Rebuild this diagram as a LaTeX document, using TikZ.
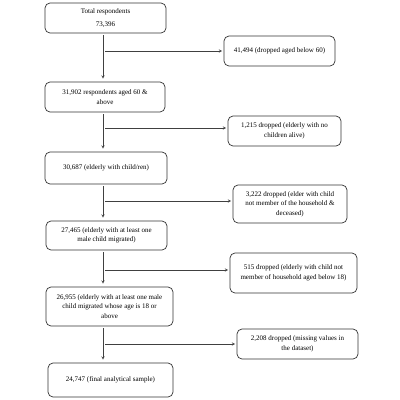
\documentclass[tikz,border=0pt]{standalone}
\usepackage{fontspec}
\setmainfont{Liberation Serif}
\begin{document}
\begin{tikzpicture}[
        x=1pt,
        y=-1pt,
        stagebox/.style={
            draw=black!80,
            rounded corners=5pt,
            line width=0.7pt,
            align=center,
            inner sep=2pt,
            font=\fontsize{7}{9.5}\selectfont
        },
        dropbox/.style={
            draw=black!80,
            rounded corners=5pt,
            line width=0.7pt,
            align=center,
            inner sep=2pt,
            font=\fontsize{7}{9.5}\selectfont
        },
        flowarrow/.style={
            ->,
            >=stealth,
            line width=0.5pt,
            black!75
        }
    ]

    \useasboundingbox (0,0) rectangle (400,400);

    % ---------------------------------------------------------
    % Main column (remaining sample)
    % ---------------------------------------------------------
    \node[stagebox, minimum width=121pt, minimum height=30pt] (total) at (105.5,18)
        {Total respondents\\[3pt]73,396};
    \node[stagebox, minimum width=120pt, minimum height=30pt] (aged) at (105,97)
        {31,902 respondents aged 60 \&\\above};
    \node[stagebox, minimum width=122pt, minimum height=32pt] (children) at (106,168)
        {30,687 (elderly with child/ren)};
    \node[stagebox, minimum width=121pt, minimum height=29pt] (migrated) at (106.5,235.5)
        {27,465 (elderly with at least one\\male child migrated)};
    \node[stagebox, minimum width=127pt, minimum height=39pt] (adult) at (109.5,306.5)
        {26,955 (elderly with at least one male\\child migrated whose age is 18 or\\above};
    \node[stagebox, minimum width=125pt, minimum height=34pt] (final) at (110.5,380)
        {24,747 (final analytical sample)};

    % ---------------------------------------------------------
    % Side column (dropped cases)
    % ---------------------------------------------------------
    \node[dropbox, minimum width=111pt, minimum height=30pt] (dropA) at (279.5,51)
        {41,494 (dropped aged below 60)};
    \node[dropbox, minimum width=113pt, minimum height=30pt] (dropB) at (284.5,131)
        {1,215 dropped (elderly with no\\children alive)};
    \node[dropbox, minimum width=114pt, minimum height=38pt] (dropC) at (290,204)
        {3,222 dropped (elder with child\\not member of the household \&\\deceased)};
    \node[dropbox, minimum width=127pt, minimum height=40pt] (dropD) at (293.5,273)
        {515 dropped (elderly with child not\\member of household aged below 18)};
    \node[dropbox, minimum width=121pt, minimum height=30pt] (dropE) at (297.5,344)
        {2,208 dropped (missing values in\\the dataset)};

    % Vertical spine of the flow
    \coordinate (spine) at (103,0);

    % ---------------------------------------------------------
    % Downward arrows
    % ---------------------------------------------------------
    \foreach \from/\to in {total/aged, aged/children, children/migrated,
                           migrated/adult, adult/final} {
        \draw[flowarrow, shorten <=2pt, shorten >=3pt]
            (\from.south -| spine) -- (\to.north -| spine);
    }

    % ---------------------------------------------------------
    % Side arrows to dropped cases
    % ---------------------------------------------------------
    \draw[flowarrow, shorten <=2pt, shorten >=1.5pt]
        (dropA.west -| spine) -- (dropA.west);
    \foreach \drop in {dropB, dropC, dropD} {
        \draw[flowarrow, shorten <=2pt, shorten >=1.5pt]
            ([yshift=3pt]\drop.west -| spine) -- ([yshift=3pt]\drop.west);
    }
    \draw[flowarrow, shorten <=2pt, shorten >=1.5pt]
        (dropE.west -| spine) -- (dropE.west);

    \end{tikzpicture}
\end{document}
